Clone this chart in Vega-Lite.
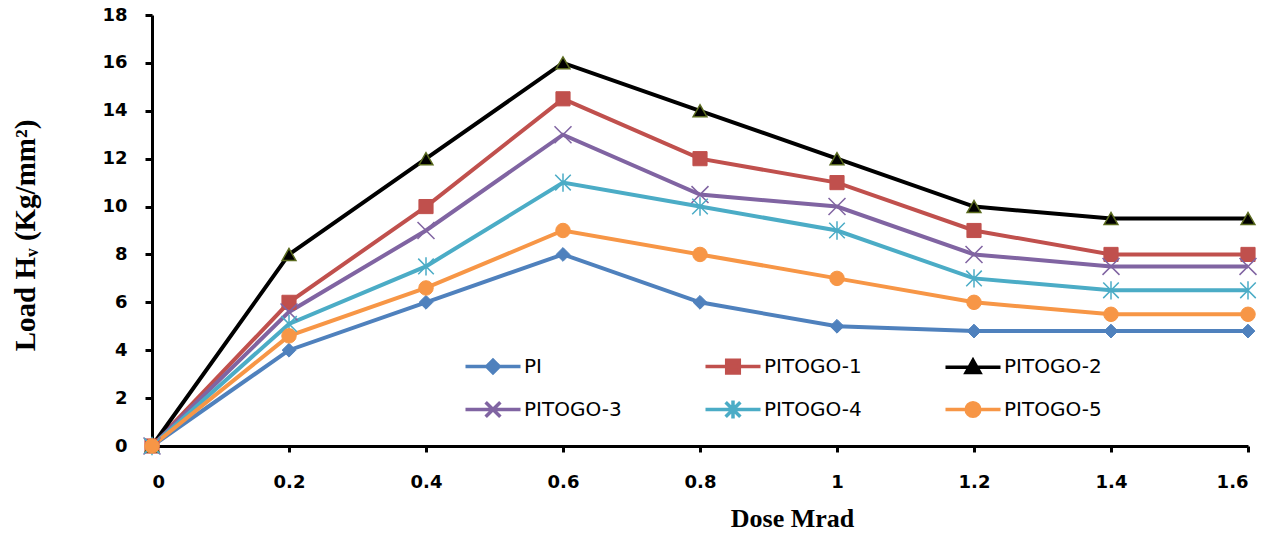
{
  "$schema": "https://vega.github.io/schema/vega-lite/v6.json",
  "width": 1096,
  "height": 431,
  "autosize": {"type": "none"},
  "padding": {"left": 152, "top": 15, "right": 29, "bottom": 90},
  "background": "white",
  "config": {
    "view": {"stroke": null},
    "axis": {
      "grid": false,
      "domainColor": "black",
      "domainWidth": 3,
      "tickColor": "black",
      "tickWidth": 3,
      "labelFont": "DejaVu Sans",
      "labelFontWeight": "bold",
      "labelFontSize": 18,
      "labelColor": "black",
      "titleFont": "Liberation Serif",
      "titleFontWeight": "bold",
      "titleColor": "black"
    },
    "legend": {
      "orient": "none",
      "legendX": 328.5,
      "legendY": 339,
      "direction": "horizontal",
      "columns": 3,
      "padding": 0,
      "labelFont": "DejaVu Sans",
      "labelFontSize": 20,
      "labelColor": "black",
      "symbolSize": 441,
      "symbolStrokeWidth": 3.5,
      "symbolOpacity": 1,
      "labelOffset": 18.5,
      "columnPadding": 75,
      "rowPadding": 13
    }
  },
  "data": {
    "values": [
      {"series": "PI", "dose": 0, "load": 0},
      {"series": "PI", "dose": 0.2, "load": 4},
      {"series": "PI", "dose": 0.4, "load": 6},
      {"series": "PI", "dose": 0.6, "load": 8},
      {"series": "PI", "dose": 0.8, "load": 6},
      {"series": "PI", "dose": 1.0, "load": 5},
      {"series": "PI", "dose": 1.2, "load": 4.8},
      {"series": "PI", "dose": 1.4, "load": 4.8},
      {"series": "PI", "dose": 1.6, "load": 4.8},
      {"series": "PITOGO-1", "dose": 0, "load": 0},
      {"series": "PITOGO-1", "dose": 0.2, "load": 6},
      {"series": "PITOGO-1", "dose": 0.4, "load": 10},
      {"series": "PITOGO-1", "dose": 0.6, "load": 14.5},
      {"series": "PITOGO-1", "dose": 0.8, "load": 12},
      {"series": "PITOGO-1", "dose": 1.0, "load": 11},
      {"series": "PITOGO-1", "dose": 1.2, "load": 9},
      {"series": "PITOGO-1", "dose": 1.4, "load": 8},
      {"series": "PITOGO-1", "dose": 1.6, "load": 8},
      {"series": "PITOGO-2", "dose": 0, "load": 0},
      {"series": "PITOGO-2", "dose": 0.2, "load": 8},
      {"series": "PITOGO-2", "dose": 0.4, "load": 12},
      {"series": "PITOGO-2", "dose": 0.6, "load": 16},
      {"series": "PITOGO-2", "dose": 0.8, "load": 14},
      {"series": "PITOGO-2", "dose": 1.0, "load": 12},
      {"series": "PITOGO-2", "dose": 1.2, "load": 10},
      {"series": "PITOGO-2", "dose": 1.4, "load": 9.5},
      {"series": "PITOGO-2", "dose": 1.6, "load": 9.5},
      {"series": "PITOGO-3", "dose": 0, "load": 0},
      {"series": "PITOGO-3", "dose": 0.2, "load": 5.6},
      {"series": "PITOGO-3", "dose": 0.4, "load": 9},
      {"series": "PITOGO-3", "dose": 0.6, "load": 13},
      {"series": "PITOGO-3", "dose": 0.8, "load": 10.5},
      {"series": "PITOGO-3", "dose": 1.0, "load": 10},
      {"series": "PITOGO-3", "dose": 1.2, "load": 8},
      {"series": "PITOGO-3", "dose": 1.4, "load": 7.5},
      {"series": "PITOGO-3", "dose": 1.6, "load": 7.5},
      {"series": "PITOGO-4", "dose": 0, "load": 0},
      {"series": "PITOGO-4", "dose": 0.2, "load": 5.1},
      {"series": "PITOGO-4", "dose": 0.4, "load": 7.5},
      {"series": "PITOGO-4", "dose": 0.6, "load": 11},
      {"series": "PITOGO-4", "dose": 0.8, "load": 10},
      {"series": "PITOGO-4", "dose": 1.0, "load": 9},
      {"series": "PITOGO-4", "dose": 1.2, "load": 7},
      {"series": "PITOGO-4", "dose": 1.4, "load": 6.5},
      {"series": "PITOGO-4", "dose": 1.6, "load": 6.5},
      {"series": "PITOGO-5", "dose": 0, "load": 0},
      {"series": "PITOGO-5", "dose": 0.2, "load": 4.6},
      {"series": "PITOGO-5", "dose": 0.4, "load": 6.6},
      {"series": "PITOGO-5", "dose": 0.6, "load": 9},
      {"series": "PITOGO-5", "dose": 0.8, "load": 8},
      {"series": "PITOGO-5", "dose": 1.0, "load": 7},
      {"series": "PITOGO-5", "dose": 1.2, "load": 6},
      {"series": "PITOGO-5", "dose": 1.4, "load": 5.5},
      {"series": "PITOGO-5", "dose": 1.6, "load": 5.5}
    ]
  },
  "encoding": {
    "x": {
      "field": "dose",
      "type": "quantitative",
      "scale": {"domain": [0, 1.6], "nice": false, "zero": false},
      "axis": {
        "values": [0, 0.2, 0.4, 0.6, 0.8, 1, 1.2, 1.4, 1.6],
        "format": "~g",
        "tickSize": 6,
        "labelPadding": 21,
        "title": "Dose Mrad",
        "titleFontSize": 26,
        "titleX": 640,
        "titleY": 80,
        "titleAnchor": null,
        "titleAlign": "center",
        "titleBaseline": "alphabetic"
      }
    },
    "y": {
      "field": "load",
      "type": "quantitative",
      "scale": {"domain": [0, 18], "nice": false},
      "axis": {
        "values": [0, 2, 4, 6, 8, 10, 12, 14, 16, 18],
        "tickSize": 7,
        "labelPadding": 18,
        "title": "Load  Hᵥ (Kg/mm²)",
        "titleFontSize": 29,
        "titleAngle": -90,
        "titleX": -127,
        "titleY": 220,
        "titleAlign": "center",
        "titleBaseline": "middle"
      }
    },
    "color": {
      "field": "series",
      "type": "nominal",
      "scale": {
        "domain": ["PI", "PITOGO-1", "PITOGO-2", "PITOGO-3", "PITOGO-4", "PITOGO-5"],
        "range": ["#4F81BD", "#C0504D", "#000000", "#8064A2", "#4BACC6", "#F79646"]
      },
      "legend": {"title": null}
    }
  },
  "layer": [
    {
      "mark": {"type": "line", "strokeWidth": 4}
    },
    {
      "transform": [{"filter": "datum.series === 'PI'"}],
      "mark": {"type": "point", "shape": "diamond", "filled": true, "size": 190, "opacity": 1, "stroke": "#4F81BD", "strokeWidth": 1}
    },
    {
      "transform": [{"filter": "datum.series === 'PITOGO-1'"}],
      "mark": {"type": "point", "shape": "square", "filled": true, "size": 200, "opacity": 1, "stroke": "#C0504D", "strokeWidth": 1}
    },
    {
      "transform": [{"filter": "datum.series === 'PITOGO-2'"}],
      "mark": {"type": "point", "shape": "triangle-up", "filled": true, "size": 190, "opacity": 1, "stroke": "#5b6b1f", "strokeWidth": 1.5}
    },
    {
      "transform": [{"filter": "datum.series === 'PITOGO-3'"}],
      "mark": {"type": "point", "shape": "M-1.2,-1.2L1.2,1.2M-1.2,1.2L1.2,-1.2", "filled": true, "size": 200, "opacity": 1, "stroke": "#8064A2", "strokeWidth": 1.5}
    },
    {
      "transform": [{"filter": "datum.series === 'PITOGO-4'"}],
      "mark": {"type": "point", "shape": "M-1.1,-1.1L1.1,1.1M-1.1,1.1L1.1,-1.1M0,-1.3V1.3", "filled": true, "size": 200, "opacity": 1, "stroke": "#4BACC6", "strokeWidth": 1.5}
    },
    {
      "transform": [{"filter": "datum.series === 'PITOGO-5'"}],
      "mark": {"type": "point", "shape": "circle", "filled": true, "size": 210, "opacity": 1, "stroke": "#F79646", "strokeWidth": 1}
    },
    {
      "mark": {"type": "point", "filled": true, "opacity": 0},
      "encoding": {
        "shape": {
          "field": "series",
          "type": "nominal",
          "scale": {
            "domain": ["PI", "PITOGO-1", "PITOGO-2", "PITOGO-3", "PITOGO-4", "PITOGO-5"],
            "range": [
              "M-2.62,0H2.62M0,-0.6L0.6,0L0,0.6L-0.6,0Z",
              "M-2.62,0H2.62M-0.6,-0.6H0.6V0.6H-0.6Z",
              "M-2.62,0H2.62M0,-0.65L0.65,0.5L-0.65,0.5Z",
              "M-2.62,0H2.62M-0.7,-0.7L0.7,0.7M-0.7,0.7L0.7,-0.7",
              "M-2.62,0H2.62M-0.7,-0.7L0.7,0.7M-0.7,0.7L0.7,-0.7M0,-0.85V0.85",
              "M-2.62,0H2.62M-0.65,0A0.65,0.65 0 1,0 0.65,0A0.65,0.65 0 1,0 -0.65,0Z"
            ]
          },
          "legend": {"title": null}
        }
      }
    }
  ]
}
